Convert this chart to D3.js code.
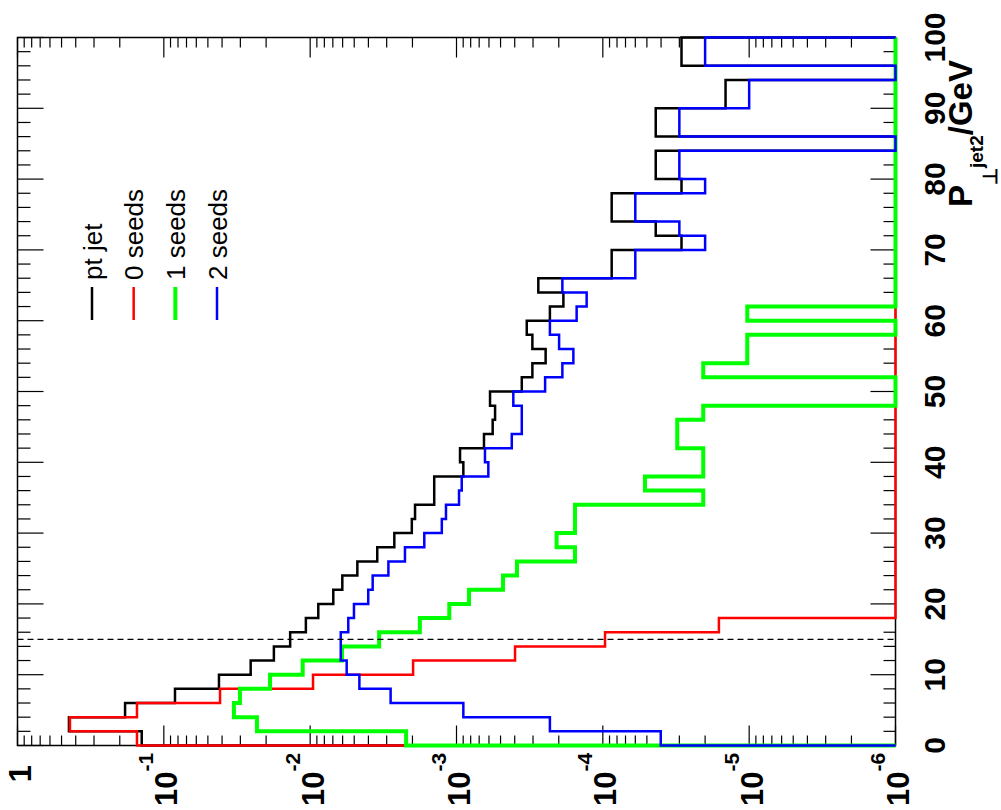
<!DOCTYPE html>
<html>
<head>
<meta charset="utf-8">
<script src="https://cdn.jsdelivr.net/npm/d3@7"></script>
<style>
  body { margin: 0; background: #fff; }
  svg { display: block; }
  text { font-family: "Liberation Sans", Arial, Helvetica, sans-serif; }
</style>
</head>
<body>
<div class="container"></div>
<script>
// bin edges of the pT histograms (GeV), 2 GeV wide bins
const binEdges = d3.range(0, 102, 2);

// normalised entries per bin
const ptJet = [
  0.1416, 0.445, 0.184, 0.0839, 0.0420, 0.0255, 0.0177, 0.0137, 0.0107, 0.0088,
  0.00695, 0.00603, 0.00476, 0.00348, 0.00266, 0.00202, 0.00192, 0.00142, 0.00142, 0.000898,
  0.000946, 0.000649, 0.000566, 0.000545, 0.000590, 0.000358, 0.000303, 0.000246, 0.000303, 0.000331,
  0.000230, 0.000186, 0.000276, 8.7e-5, 8.7e-5, 2.9e-5, 4.35e-5, 8.7e-5, 8.7e-5, 2.9e-5,
  4.35e-5, 4.35e-5, 0, 4.35e-5, 4.35e-5, 1.45e-5, 1.45e-5, 0, 2.9e-5, 2.9e-5
];
const seeds0 = [
  0.1526, 0.438, 0.1526, 0.0413, 0.00956, 0.00198, 0.000398, 9.66e-5, 1.61e-5, 0,
  0, 0, 0, 0, 0, 0, 0, 0, 0, 0,
  0, 0, 0, 0, 0, 0, 0, 0, 0, 0,
  0, 0, 0, 0, 0, 0, 0, 0, 0, 0,
  0, 0, 0, 0, 0, 0, 0, 0, 0, 0
];
const seeds1 = [
  0.00221, 0.0231, 0.0332, 0.0302, 0.0188, 0.01125, 0.00606, 0.00338, 0.00178, 0.00112,
  0.000821, 0.000481, 0.000386, 0.000155, 0.000207, 0.000155, 0.000155, 2.06e-5, 5.15e-5, 2.06e-5,
  2.06e-5, 3.1e-5, 3.1e-5, 2.06e-5, 0, 0, 2.06e-5, 1.03e-5, 1.03e-5, 0,
  1.03e-5, 0, 0, 0, 0, 0, 0, 0, 0, 0,
  0, 0, 0, 0, 0, 0, 0, 0, 0, 0
];
const seeds2 = [
  4.02e-5, 0.000230, 0.000898, 0.00282, 0.00461, 0.00563, 0.00618, 0.00618, 0.00549, 0.00502,
  0.00401, 0.00374, 0.00292, 0.00225, 0.00166, 0.00126, 0.00118, 0.000961, 0.000921, 0.000606,
  0.000639, 0.000419, 0.000358, 0.000358, 0.000409, 0.000248, 0.000189, 0.000159, 0.000199, 0.000230,
  0.000151, 0.000129, 0.000189, 6.0e-5, 6.0e-5, 2.0e-5, 3.0e-5, 6.0e-5, 6.0e-5, 2.0e-5,
  3.0e-5, 3.0e-5, 0, 3.0e-5, 3.0e-5, 1.0e-5, 1.0e-5, 0, 2.0e-5, 2.0e-5
];

const seriesNames = ["pt jet", "0 seeds", "1 seeds", "2 seeds"];
const seriesValues = [ptJet, seeds0, seeds1, seeds2];
const seriesColors = ["#000000", "#ff0000", "#00ff00", "#0000ff"];
const seriesWidths = [2.5, 2.5, 4, 2.5];

const ptTicks = d3.range(0, 101, 10);
const valueExps = [0, -1, -2, -3, -4, -5, -6];
const cutPt = 15;

const W = 1001, H = 810;
const svg = d3.select(".container").append("svg")
  .attr("width", W).attr("height", H);
svg.append("rect").attr("width", W).attr("height", H).attr("fill", "#fff");

// the plot is drawn turned by 90 degrees: values run left->right, pT bottom->top
const xVal = d3.scaleLog().domain([1, 1e-6]).range([17.5, 895.5]);
const yPt = d3.scaleLinear().domain([0, 100]).range([745.5, 37.5]);

// frame
svg.append("rect")
  .attr("x", xVal(1)).attr("y", yPt(100))
  .attr("width", xVal(1e-6) - xVal(1)).attr("height", yPt(0) - yPt(100))
  .attr("fill", "none").attr("stroke", "#000").attr("stroke-width", 1.5);

// ticks
const majorV = valueExps.map((e) => Math.pow(10, e));
const minorV = [];
valueExps.slice(1).forEach((e) =>
  d3.range(2, 10).forEach((k) => minorV.push(k * Math.pow(10, e)))
);
const minorPt = d3.range(0, 101, 2).filter((t) => t % 10 !== 0);

function tickGroup(axis, tr) {
  const g = svg.append("g").attr("transform", tr).call(axis.offset(0).tickFormat(""));
  g.select(".domain").remove();
  g.selectAll("text").remove();
  g.selectAll("line").attr("stroke", "#000").attr("stroke-width", 1.2);
}
tickGroup(d3.axisBottom(xVal).tickValues(majorV).tickSize(-20), `translate(0,${yPt(0)})`);
tickGroup(d3.axisBottom(xVal).tickValues(minorV).tickSize(-10), `translate(0,${yPt(0)})`);
tickGroup(d3.axisTop(xVal).tickValues(majorV).tickSize(-20), `translate(0,${yPt(100)})`);
tickGroup(d3.axisTop(xVal).tickValues(minorV).tickSize(-10), `translate(0,${yPt(100)})`);
tickGroup(d3.axisLeft(yPt).tickValues(ptTicks).tickSize(-26), `translate(${xVal(1)},0)`);
tickGroup(d3.axisLeft(yPt).tickValues(minorPt).tickSize(-13), `translate(${xVal(1)},0)`);
tickGroup(d3.axisRight(yPt).tickValues(ptTicks).tickSize(-25), `translate(${xVal(1e-6)},0)`);
tickGroup(d3.axisRight(yPt).tickValues(minorPt).tickSize(-12), `translate(${xVal(1e-6)},0)`);

// histograms
const vMin = 1e-6;
const line = d3.line().x((d) => xVal(Math.max(d[0], vMin))).y((d) => yPt(d[1]));
seriesValues.forEach((vals, s) => {
  const pts = [[vMin, binEdges[0]]];
  vals.forEach((v, i) => {
    pts.push([v, binEdges[i]]);
    pts.push([v, binEdges[i + 1]]);
  });
  pts.push([vMin, binEdges[binEdges.length - 1]]);
  svg.append("path")
    .attr("d", line(pts))
    .attr("fill", "none")
    .attr("stroke", seriesColors[s])
    .attr("stroke-width", seriesWidths[s]);
});

// cut line
svg.append("line")
  .attr("x1", xVal(1)).attr("x2", xVal(1e-6))
  .attr("y1", yPt(cutPt)).attr("y2", yPt(cutPt))
  .attr("stroke", "#000").attr("stroke-width", 1.3)
  .attr("stroke-dasharray", "6,4");

// pT tick labels
svg.append("g").selectAll("text")
  .data(ptTicks)
  .join("text")
  .attr("transform", (d) => `translate(945,${yPt(d)}) rotate(-90)`)
  .attr("text-anchor", "middle")
  .attr("font-weight", "bold")
  .attr("font-size", 30)
  .text((d) => d);

// value tick labels
valueExps.forEach((e) => {
  const x = xVal(Math.pow(10, e)) + 13.5;
  if (e === 0) {
    svg.append("text")
      .attr("transform", `translate(${x},773.5) rotate(-90)`)
      .attr("text-anchor", "middle")
      .attr("font-weight", "bold").attr("font-size", 31)
      .text("1");
    return;
  }
  const t = svg.append("text")
    .attr("transform", `translate(${x},806) rotate(-90)`)
    .attr("font-weight", "bold");
  t.append("tspan").attr("font-size", 31).text("10");
  t.append("tspan").attr("font-size", 21).attr("dy", -24).text(e);
});

// axis title
const title = svg.append("text")
  .attr("transform", "translate(972,207) rotate(-90)")
  .attr("font-weight", "bold");
title.append("tspan").attr("font-size", 33).text("P");
title.append("tspan").attr("font-size", 20).attr("dy", 25).text("\u22A5");
title.append("tspan").attr("font-size", 19).attr("dy", -14).text("jet2");
title.append("tspan").attr("font-size", 33).attr("dy", -11).text("/GeV");

// legend
const legX = d3.scaleLinear().domain([0, 3]).range([92, 217]);
const leg = svg.append("g").selectAll("g")
  .data(seriesNames)
  .join("g");
leg.append("line")
  .attr("x1", (d, i) => legX(i)).attr("x2", (d, i) => legX(i))
  .attr("y1", 287).attr("y2", 320)
  .attr("stroke", (d, i) => seriesColors[i])
  .attr("stroke-width", (d, i) => seriesWidths[i]);
leg.append("text")
  .attr("transform", (d, i) => `translate(${legX(i) + 9.5},280) rotate(-90)`)
  .attr("font-size", 26)
  .text((d) => d);
</script>
</body>
</html>
